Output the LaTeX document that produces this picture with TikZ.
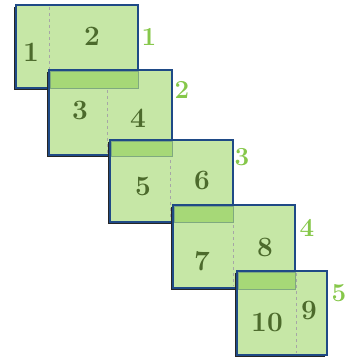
\documentclass[tikz,border=0pt]{standalone}
\usetikzlibrary{positioning}
\definecolor{pagefill}{HTML}{C6E7A6}
\definecolor{stripfill}{HTML}{A6D877}
\definecolor{edgeblue}{HTML}{1F4A86}
\definecolor{numgreen}{HTML}{4C6A2C}
\definecolor{labgreen}{HTML}{86C74A}
\tikzset{
  sheet/.style={draw=edgeblue, line width=2.2pt, fill=pagefill, inner sep=0pt, outer sep=0pt, anchor=north west},
  shadowbox/.style={fill=black!85, inner sep=0pt, outer sep=0pt, anchor=north west},
  strip/.style={fill=stripfill, draw=gray!55!green!60!black!60, line width=0.5pt, inner sep=0pt, outer sep=0pt, anchor=north west},
  fold/.style={gray!70, dashed, line width=0.5pt},
  pagenum/.style={text=numgreen, font=\fontsize{28}{28}\selectfont\bfseries, inner sep=0pt},
  steplabel/.style={text=labgreen, font=\fontsize{26}{26}\selectfont\bfseries, inner sep=0pt}
}
\begin{document}
\begin{tikzpicture}[x=1pt, y=-1pt]
\useasboundingbox (0,0) rectangle (348,358);
% sheet 1
\node[shadowbox, minimum width=122pt, minimum height=83pt] (h1) at (14,7) {};
\node[sheet, minimum width=122pt, minimum height=83pt] (s1) at (16,5) {};
\draw[fold] (49,7) -- (49,86);
\node[pagenum] (n1) at (31,52) {1};
\node[pagenum] (n2) at (92,36) {2};
\node[steplabel] (l1) at (149,37) {1};
% sheet 2
\node[shadowbox, minimum width=123pt, minimum height=85pt] (h2) at (47,72) {};
\node[sheet, minimum width=123pt, minimum height=85pt] (s2) at (49,70) {};
\draw[fold] (107,72) -- (107,153);
\node[strip, minimum width=88pt, minimum height=17pt] (t2) at (50.5,71) {};
\draw[edgeblue, line width=2.2pt] (s2.north west) -- (s2.north east);
\node[pagenum] (n3) at (80,110) {3};
\node[pagenum] (n4) at (138,118) {4};
\node[steplabel] (l2) at (182,90) {2};
% sheet 3
\node[shadowbox, minimum width=123pt, minimum height=82pt] (h3) at (108,142) {};
\node[sheet, minimum width=123pt, minimum height=82pt] (s3) at (110,140) {};
\draw[fold] (170,142) -- (170,220);
\draw[fold] (111,155) -- (172,155);
\node[strip, minimum width=61pt, minimum height=15pt] (t3) at (111.5,141) {};
\draw[edgeblue, line width=2.2pt] (s3.north west) -- (s3.north east);
\node[pagenum] (n5) at (143,186) {5};
\node[pagenum] (n6) at (202,180) {6};
\node[steplabel] (l3) at (242,157) {3};
% sheet 4
\node[shadowbox, minimum width=122pt, minimum height=83pt] (h4) at (171,207) {};
\node[sheet, minimum width=122pt, minimum height=83pt] (s4) at (173,205) {};
\draw[fold] (233,207) -- (233,286);
\node[strip, minimum width=59pt, minimum height=16pt] (t4) at (174.5,206) {};
\draw[edgeblue, line width=2.2pt] (s4.north west) -- (s4.north east);
\node[pagenum] (n7) at (202,261) {7};
\node[pagenum] (n8) at (265,247) {8};
\node[steplabel] (l4) at (307,228) {4};
% sheet 5
\node[shadowbox, minimum width=90pt, minimum height=84pt] (h5) at (235,273) {};
\node[sheet, minimum width=90pt, minimum height=84pt] (s5) at (237,271) {};
\draw[fold] (296,273) -- (296,353);
\draw[fold] (238,288) -- (295,288);
\node[strip, minimum width=57pt, minimum height=17pt] (t5) at (238.5,272) {};
\draw[edgeblue, line width=2.2pt] (s5.north west) -- (s5.north east);
\node[pagenum] (n10) at (267,322) {10};
\node[pagenum] (n9) at (309,310) {9};
\node[steplabel] (l5) at (339,293) {5};
\end{tikzpicture}
\end{document}
